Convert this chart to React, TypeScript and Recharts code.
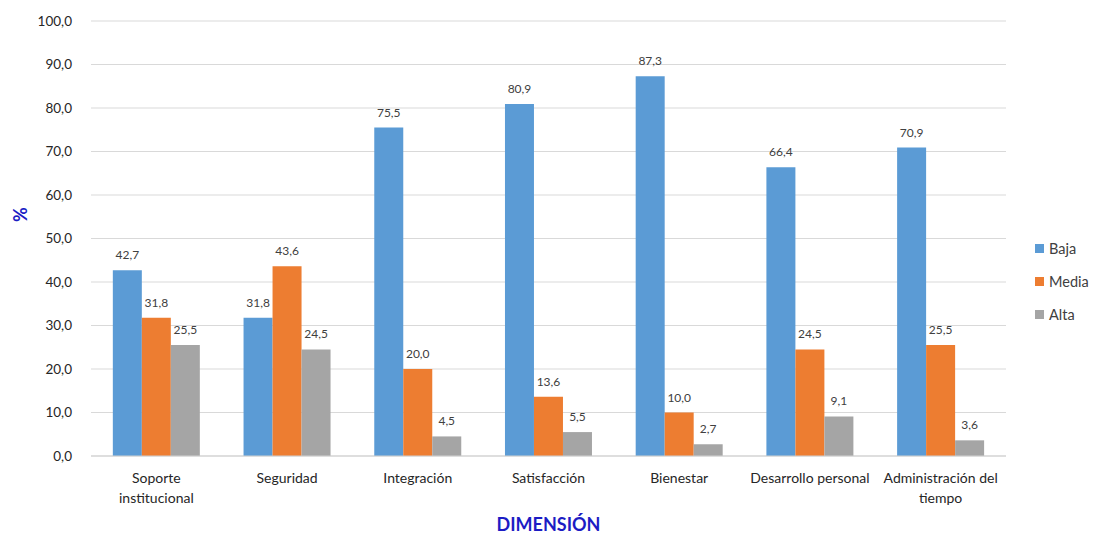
import React from "react";
import { BarChart, Bar, XAxis, YAxis, CartesianGrid, LabelList, Text } from "recharts";

const categories = [
  "Soporte institucional",
  "Seguridad",
  "Integración",
  "Satisfacción",
  "Bienestar",
  "Desarrollo personal",
  "Administración del tiempo",
];
const baja = [42.7, 31.8, 75.5, 80.9, 87.3, 66.4, 70.9];
const media = [31.8, 43.6, 20.0, 13.6, 10.0, 24.5, 25.5];
const alta = [25.5, 24.5, 4.5, 5.5, 2.7, 9.1, 3.6];
const yTicks = [0, 10, 20, 30, 40, 50, 60, 70, 80, 90, 100];

const series = [
  { key: "baja", name: "Baja", color: "#5B9BD5" },
  { key: "media", name: "Media", color: "#ED7D31" },
  { key: "alta", name: "Alta", color: "#A5A5A5" },
];

const data = categories.map((c, i) => ({ name: c, baja: baja[i], media: media[i], alta: alta[i] }));

const FONT = "Lato, 'Open Sans', sans-serif";
const TITLE_COLOR = "#1C1CC4";
const fmt = (v: any) => Number(v).toFixed(1).replace(".", ",");

const CategoryTick = (props: any) => {
  const { x, y, payload } = props;
  return (
    <Text
      x={x}
      y={y + 9}
      width={128}
      textAnchor="middle"
      verticalAnchor="start"
      lineHeight={20}
      fontSize={14}
      fontFamily={FONT}
      fill="#262626"
    >
      {payload.value}
    </Text>
  );
};

const PercentLabel = (props: any) => {
  const { viewBox } = props;
  const cx = 20;
  const cy = viewBox.y + viewBox.height / 2 - 24;
  return (
    <text
      x={cx}
      y={cy}
      transform={`rotate(-90, ${cx}, ${cy})`}
      textAnchor="middle"
      dominantBaseline="central"
      fill={TITLE_COLOR}
      fontSize={18}
      fontWeight={700}
      fontFamily={FONT}
    >
      %
    </text>
  );
};

export default function App() {
  return (
    <div style={{ position: "absolute", left: 0, top: 0, width: 1098, height: 535, background: "#fff" }}>
      <BarChart
        width={1098}
        height={535}
        data={data}
        margin={{ top: 21, right: 92, left: 0, bottom: 0 }}
        barCategoryGap="16.7%"
        barGap={0}
      >
        <CartesianGrid vertical={false} stroke="#D9D9D9" />
        <XAxis
          dataKey="name"
          height={79}
          interval={0}
          tickLine={false}
          axisLine={{ stroke: "#D0D0D0" }}
          tick={<CategoryTick />}
          label={{
            value: "DIMENSIÓN",
            position: "insideBottom",
            offset: 4,
            fill: TITLE_COLOR,
            fontSize: 18,
            fontWeight: 700,
            fontFamily: FONT,
          }}
        />
        <YAxis
          width={91}
          domain={[0, 100]}
          ticks={yTicks}
          interval={0}
          tickFormatter={fmt}
          tickLine={false}
          axisLine={false}
          tickMargin={13}
          tick={{ fontSize: 13.5, fontFamily: FONT, fill: "#262626" }}
          label={<PercentLabel />}
        />
        {series.map((s) => (
          <Bar key={s.key} dataKey={s.key} name={s.name} fill={s.color} isAnimationActive={false}>
            <LabelList
              dataKey={s.key}
              position="top"
              offset={11}
              formatter={fmt}
              fontSize={12}
              fontFamily={FONT}
              fill="#404040"
            />
          </Bar>
        ))}
      </BarChart>
      <div
        style={{
          position: "absolute",
          left: 1035,
          top: 232,
          fontFamily: FONT,
          fontSize: 14.5,
          color: "#404040",
        }}
      >
        {series.map((s) => (
          <div key={s.key} style={{ display: "flex", alignItems: "center", height: 33 }}>
            <span style={{ display: "inline-block", width: 9, height: 9, background: s.color, marginRight: 5 }} />
            {s.name}
          </div>
        ))}
      </div>
    </div>
  );
}
